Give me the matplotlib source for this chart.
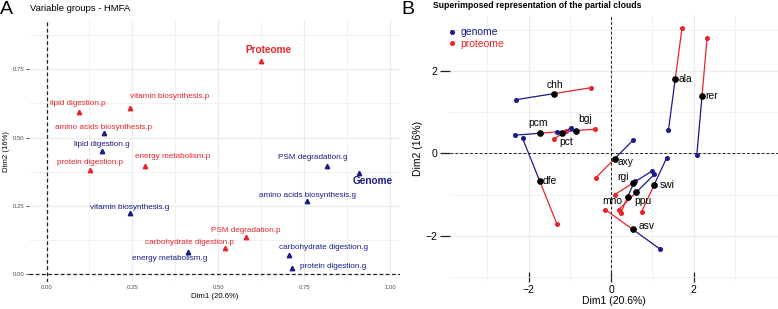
import matplotlib
matplotlib.use('Agg')
import matplotlib.pyplot as plt
from matplotlib.lines import Line2D
import numpy as np

plt.rcParams['font.family'] = ['Liberation Sans', 'DejaVu Sans']

# ---------------- Panel A data (variable groups - HMFA) ----------------
group_names = ['Proteome', 'vitamin biosynthesis.p', 'lipid digestion.p',
               'amino acids biosynthesis.p', 'lipid digestion.g', 'protein digestion.p',
               'energy metabolism.p', 'PSM degradation.g', 'Genome',
               'amino acids biosynthesis.g', 'vitamin biosynthesis.g', 'PSM degradation.p',
               'carbohydrate digestion.p', 'energy metabolism.g', 'carbohydrate digestion.g',
               'protein digestion.g']
group_dim1 = [0.624, 0.242, 0.095, 0.166, 0.161, 0.126, 0.288, 0.817, 0.909,
              0.759, 0.243, 0.581, 0.521, 0.411, 0.705, 0.715]
group_dim2 = [0.779, 0.610, 0.595, 0.516, 0.451, 0.382, 0.396, 0.396, 0.370,
              0.268, 0.223, 0.138, 0.095, 0.082, 0.071, 0.022]
group_table = ['proteome', 'proteome', 'proteome', 'proteome', 'genome', 'proteome',
               'proteome', 'genome', 'genome', 'genome', 'genome', 'proteome',
               'proteome', 'genome', 'genome', 'genome']
group_marker_table = ['proteome', 'proteome', 'proteome', 'genome', 'genome', 'proteome',
                      'proteome', 'genome', 'genome', 'genome', 'genome', 'proteome',
                      'proteome', 'genome', 'genome', 'genome']
group_bold = ['Proteome', 'Genome']

# ---------------- Panel B data (partial clouds) ----------------
ind_names = ['chh', 'ala', 'rer', 'pcm', 'bgj', 'pct', 'dfe', 'axy', 'asv',
             'rgi', 'mno', 'ppu', 'swi']
genome_dim1 = [-2.30, 1.39, 2.08, -2.33, -1.31, -0.98, -2.15, 0.54, 1.19,
               0.99, 0.57, 1.05, 1.35]
genome_dim2 = [1.31, 0.56, -0.04, 0.445, 0.52, 0.62, 0.37, 0.33, -2.33,
               -0.43, -0.67, -0.51, -0.105]
proteome_dim1 = [-0.49, 1.72, 2.33, -1.10, -0.40, -1.38, -1.31, -0.37, -0.14,
                 0.09, 0.23, 0.18, 0.74]
proteome_dim2 = [1.60, 3.05, 2.82, 0.54, 0.59, 0.36, -1.73, -0.59, -1.37,
                 -1.00, -1.46, -1.37, -1.42]

# ---------------- layout / style ----------------
BLUE = '#1a1a8c'
RED = '#e8242a'
colors = {'genome': BLUE, 'proteome': RED}
GRID = '#ebebeb'

# label offsets in pixels (dx, dy up)
offA = {'Proteome': (8, 11), 'vitamin biosynthesis.p': (40, 11), 'lipid digestion.p': (-1, 8),
        'amino acids biosynthesis.p': (0, 6), 'lipid digestion.g': (0, 7),
        'protein digestion.p': (0, 7), 'energy metabolism.p': (27, 10),
        'PSM degradation.g': (-14, 9), 'Genome': (14, -8), 'amino acids biosynthesis.g': (0, 6),
        'vitamin biosynthesis.g': (0, 6), 'PSM degradation.p': (0, 6),
        'carbohydrate digestion.p': (-36, 6), 'energy metabolism.g': (-18, -7),
        'carbohydrate digestion.g': (35, 7), 'protein digestion.g': (41, 2)}
offB = {'chh': (1, 9, 'center'), 'pcm': (-2, 10, 'center'), 'bgj': (9, 12, 'center'),
        'pct': (4, -9, 'center'), 'ala': (3, 0, 'left'), 'rer': (3, 0, 'left'),
        'dfe': (3, 0, 'left'), 'axy': (3, -3, 'left'), 'rgi': (-10, 6, 'center'),
        'swi': (6, 0, 'left'), 'mno': (-15, -4, 'center'), 'ppu': (6, -9, 'center'),
        'asv': (6, 3, 'left')}

W, H = 778, 309
fig = plt.figure(figsize=(W / 100, H / 100), dpi=100)

def fr(x0, y0, x1, y1):
    return [x0 / W, 1 - y1 / H, (x1 - x0) / W, (y1 - y0) / H]

# ======================= Panel A =======================
axA = fig.add_axes(fr(29, 20, 400, 282))
axA.set_xlim(-0.051, 1.029)
axA.set_ylim(-0.028, 0.930)
for s in axA.spines.values():
    s.set_visible(False)
axA.set_xticks([0, 0.25, 0.5, 0.75, 1.0])
axA.set_xticklabels(['0.00', '0.25', '0.50', '0.75', '1.00'])
axA.set_yticks([0, 0.25, 0.5, 0.75])
axA.set_yticklabels(['0.00', '0.25', '0.50', '0.75'])
axA.set_xticks([0.125, 0.375, 0.625, 0.875], minor=True)
axA.set_yticks([0.125, 0.375, 0.625, 0.875], minor=True)
axA.grid(True, which='major', color=GRID, lw=0.8)
axA.grid(True, which='minor', color=GRID, lw=0.5)
axA.set_axisbelow(True)
axA.tick_params(axis='x', which='major', length=0, pad=2, labelsize=4.3, labelcolor='#4d4d4d')
axA.tick_params(axis='y', which='major', length=2, width=0.6, pad=1, labelsize=4.3,
                labelcolor='#4d4d4d', color='#333333')
axA.tick_params(which='minor', length=0)
axA.axhline(0, color='#222222', lw=0.9, ls=(0, (3, 2)))
axA.axvline(0, color='#222222', lw=0.9, ls=(0, (3, 2)))

for name, x, y, g, mg in zip(group_names, group_dim1, group_dim2, group_table, group_marker_table):
    axA.plot([x], [y], marker='^', ms=3.2, color=colors[mg], ls='none')
    dx, dy = offA[name]
    bold = name in group_bold
    axA.annotate(name, (x, y), xytext=(dx, dy), textcoords='offset pixels',
                 ha='center', va='center', color=colors[g],
                 fontsize=7.2 if bold else 5.9, fontweight='bold' if bold else 'normal')

axA.set_xlabel('Dim1 (20.6%)', fontsize=5.6, labelpad=2)
axA.set_ylabel('Dim2 (16%)', fontsize=5.6, labelpad=2)
fig.text(30 / W, 1 - 8.5 / H, 'Variable groups - HMFA', fontsize=6.8, va='center', ha='left')
fig.text(0 / W, 1 - 9 / H, 'A', fontsize=14, va='center', ha='left')

# ======================= Panel B =======================
axB = fig.add_axes(fr(450, 15, 778, 282))
axB.set_xlim(-3.91, 4.05)
axB.set_ylim(-3.13, 3.37)
for s in axB.spines.values():
    s.set_visible(False)
axB.set_xticks([-2, 0, 2])
axB.set_yticks([-2, 0, 2])
axB.set_xticks([-3, -1, 1, 3], minor=True)
axB.set_yticks([-3, -1, 1, 3], minor=True)
axB.grid(True, which='major', color=GRID, lw=0.8)
axB.grid(True, which='minor', color=GRID, lw=0.5)
axB.set_axisbelow(True)
axB.tick_params(axis='x', which='major', direction='in', length=7, width=0.9, pad=2,
                labelsize=7.5, color='#222222')
axB.tick_params(axis='y', which='major', direction='out', length=7, width=0.9, pad=2,
                labelsize=7.5, color='#222222')
axB.tick_params(which='minor', length=0)
axB.axhline(0, color='#222222', lw=0.7, ls=(0, (3, 2)))
axB.axvline(0, color='#222222', lw=0.7, ls=(0, (3, 2)))

gx = np.array(genome_dim1); gy = np.array(genome_dim2)
px = np.array(proteome_dim1); py = np.array(proteome_dim2)
cx = (gx + px) / 2; cy = (gy + py) / 2
for i in range(len(ind_names)):
    axB.plot([cx[i], gx[i]], [cy[i], gy[i]], color=BLUE, lw=0.9)
    axB.plot([cx[i], px[i]], [cy[i], py[i]], color=RED, lw=0.9)
axB.plot(gx, gy, 'o', color=BLUE, ms=2.6, ls='none')
axB.plot(px, py, 'o', color=RED, ms=2.6, ls='none')
axB.plot(cx, cy, 'o', color='black', ms=3.8, ls='none')
for i, name in enumerate(ind_names):
    dx, dy, ha = offB[name]
    axB.annotate(name, (cx[i], cy[i]), xytext=(dx, dy), textcoords='offset pixels',
                 ha=ha, va='center', fontsize=7.4, color='black')

axB.set_xlabel('Dim1 (20.6%)', fontsize=7.5, labelpad=1)
axB.set_ylabel('Dim2 (16%)', fontsize=7.5, labelpad=2)

handles = [Line2D([], [], marker='o', ls='none', color=BLUE, ms=2.6, label='genome'),
           Line2D([], [], marker='o', ls='none', color=RED, ms=2.6, label='proteome')]
fig.legend(handles=handles, loc='upper left', bbox_to_anchor=(444 / W, 1 - 22 / H),
           frameon=False, fontsize=7.5, handlelength=0.6, handletextpad=0.5,
           labelspacing=0.15, borderpad=0, labelcolor=[BLUE, RED])
fig.text(433 / W, 1 - 5.5 / H, 'Superimposed representation of the partial clouds',
         fontsize=6.2, fontweight='bold', va='center', ha='left')
fig.text(401 / W, 1 - 9 / H, 'B', fontsize=14, va='center', ha='left')

fig.savefig('out.png', dpi=100)
